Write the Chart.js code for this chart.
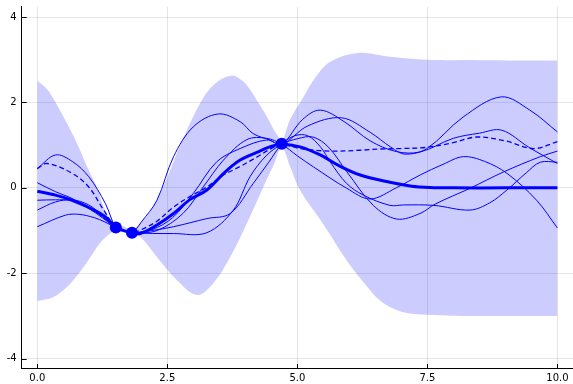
<!DOCTYPE html>
<html>
<head>
<meta charset="utf-8">
<script src="https://cdn.jsdelivr.net/npm/chart.js@4/dist/chart.umd.min.js"></script>
<style>html,body{margin:0;padding:0;background:#fff;}canvas{display:block;}</style>
</head>
<body>
<canvas id="c" width="573" height="384" style="width:573px;height:384px"></canvas>
<script>
// ---- tick definitions ----
const xTicks = [0, 2.5, 5, 7.5, 10];
const xTickLabels = ['0.0', '2.5', '5.0', '7.5', '10.0'];
const yTicks = [-4, -2, 0, 2, 4];
const yTickLabels = ['-4', '-2', '0', '2', '4'];

// ---- observations ----
const obsX = [1.51, 1.82, 4.70];
const obsY = [-0.93, -1.05, 1.03];

// ---- confidence band (upper / lower edges) ----
const bandUpX = [0, 0.12, 0.25, 0.57, 0.8, 1.0, 1.15, 1.31, 1.51, 1.66, 1.82, 2.0, 2.2, 2.42, 2.75, 3.13, 3.4, 3.74, 3.95, 4.09, 4.22, 4.4, 4.54, 4.63, 4.7, 4.86, 5.08, 5.31, 5.63, 6.17, 6.78, 7.5, 8.5, 10];
const bandUpY = [2.51, 2.39, 2.21, 1.51, 0.94, 0.38, 0.0, -0.55, -0.86, -0.9, -0.98, -0.8, -0.5, 0.02, 1.0, 1.98, 2.42, 2.63, 2.5, 2.3, 2.05, 1.7, 1.38, 1.2, 1.07, 1.6, 2.05, 2.52, 2.95, 3.16, 3.07, 3.0, 2.99, 2.98];
const bandLoX = [0, 0.3, 0.57, 0.8, 1.01, 1.2, 1.4, 1.51, 1.66, 1.82, 1.98, 2.3, 2.68, 3.07, 3.38, 3.71, 4.03, 4.32, 4.55, 4.7, 4.86, 5.05, 5.5, 5.95, 6.3, 6.6, 7.0, 7.5, 8.5, 10];
const bandLoY = [-2.65, -2.56, -2.32, -2.0, -1.64, -1.3, -1.07, -1.0, -1.02, -1.12, -1.15, -1.62, -2.16, -2.51, -2.24, -1.62, -0.83, -0.05, 0.55, 0.95, 0.5, -0.05, -0.85, -1.7, -2.25, -2.65, -2.9, -2.97, -3.0, -3.0];

// ---- posterior mean (thick line) ----
const meanX = [0, 0.35, 0.67, 0.99, 1.31, 1.51, 1.66, 1.82, 1.98, 2.3, 2.62, 2.94, 3.26, 3.61, 3.9, 4.22, 4.47, 4.7, 5.05, 5.44, 5.8, 6.21, 6.78, 7.2, 7.55, 8.0, 9.0, 10];
const meanY = [-0.08, -0.17, -0.29, -0.46, -0.68, -0.93, -1.0, -1.05, -1.07, -0.87, -0.6, -0.27, -0.05, 0.37, 0.65, 0.83, 0.96, 1.02, 0.96, 0.77, 0.52, 0.3, 0.13, 0.04, 0.01, 0.0, 0.0, 0.0];

// ---- dashed sample ----
const dashX = [0, 0.19, 0.67, 0.99, 1.24, 1.51, 1.66, 1.82, 1.98, 2.3, 2.62, 2.94, 3.26, 3.58, 3.9, 4.22, 4.5, 4.7, 5.05, 5.63, 6.2, 6.6, 7.0, 7.5, 8.0, 8.45, 9.0, 9.54, 10];
const dashY = [0.45, 0.57, 0.34, 0.02, -0.45, -0.93, -1.0, -1.05, -0.99, -0.78, -0.45, -0.2, 0.02, 0.3, 0.5, 0.72, 0.92, 1.02, 0.92, 0.86, 0.88, 0.91, 0.92, 0.95, 1.06, 1.19, 1.1, 0.92, 1.08];

// ---- thin samples ----
const s1X = [0, 0.35, 0.67, 0.99, 1.31, 1.51, 1.66, 1.82, 2.0, 2.3, 2.62, 3.0, 3.48, 3.9, 4.15, 4.47, 4.7, 5.1, 5.44, 5.9, 6.4, 6.9, 7.36, 8.0, 8.5, 8.93, 9.45, 10];
const s1Y = [0.45, 0.77, 0.62, 0.26, -0.37, -0.93, -1.0, -1.05, -0.8, -0.29, 0.73, 1.43, 1.73, 1.55, 1.27, 1.12, 1.02, 1.6, 1.82, 1.55, 1.1, 0.85, 0.84, 1.16, 1.28, 1.35, 0.95, 0.57];

const s2X = [0, 0.35, 0.67, 0.99, 1.25, 1.51, 1.66, 1.82, 2.2, 2.6, 3.0, 3.45, 3.9, 4.41, 4.7, 5.2, 5.85, 6.4, 6.8, 7.07, 7.49, 8.19, 8.92, 9.47, 10];
const s2Y = [0.12, -0.09, -0.25, -0.48, -0.7, -0.93, -1.0, -1.05, -0.98, -0.7, -0.13, 0.61, 0.92, 1.12, 1.02, 1.45, 1.64, 1.3, 0.95, 0.79, 0.92, 1.66, 2.13, 1.82, 1.31];

const s3X = [0, 0.35, 0.67, 0.99, 1.25, 1.51, 1.66, 1.82, 2.3, 2.8, 3.19, 3.58, 4.03, 4.41, 4.7, 5.0, 5.31, 5.95, 6.4, 6.9, 7.36, 7.8, 8.19, 8.6, 9.03, 9.6, 10];
const s3Y = [-0.29, -0.28, -0.3, -0.45, -0.68, -0.93, -1.0, -1.05, -1.0, -0.6, 0.02, 0.65, 1.13, 1.16, 1.02, 0.75, 0.49, -0.01, -0.26, 0.0, 0.3, 0.55, 0.73, 0.62, 0.34, -0.29, -0.94];

const s4X = [0, 0.35, 0.67, 0.99, 1.25, 1.51, 1.66, 1.82, 2.2, 2.62, 3.26, 3.71, 4.15, 4.45, 4.7, 4.95, 5.2, 5.45, 5.63, 5.95, 6.27, 6.78, 7.04, 7.62, 8.32, 8.7, 9.03, 9.4, 9.67, 10];
const s4Y = [-0.52, -0.33, -0.28, -0.4, -0.65, -0.93, -1.0, -1.05, -1.0, -0.91, -0.72, -0.6, 0.1, 0.6, 1.02, 1.22, 1.22, 0.95, 0.61, 0.1, -0.17, -0.41, -0.4, -0.41, -0.52, -0.35, -0.05, 0.35, 0.6, 0.6];

const s5X = [0, 0.54, 0.8, 1.1, 1.3, 1.51, 1.66, 1.82, 2.62, 3.26, 3.77, 4.09, 4.4, 4.7, 5.0, 5.3, 5.6, 5.95, 6.46, 6.91, 7.36, 7.65, 8.32, 8.96, 9.67, 10];
const s5Y = [-0.91, -0.64, -0.62, -0.7, -0.8, -0.93, -1.0, -1.05, -1.07, -1.05, -0.52, 0.26, 0.75, 1.02, 1.15, 1.19, 0.95, 0.38, -0.41, -0.73, -0.6, -0.38, -0.01, 0.37, 0.73, 0.86];

const pts = (xs, ys) => xs.map((x, i) => ({x: x, y: ys[i]}));
const BLUE = '#0000ff';
const TENSION = 0.35;

function thin(xs, ys) {
  return {data: pts(xs, ys), borderColor: BLUE, borderWidth: 1, pointRadius: 0,
          tension: TENSION, fill: false, order: 5};
}

const inTicks = {
  id: 'inTicks',
  afterDraw(chart) {
    const {ctx, chartArea: a, scales} = chart;
    ctx.save();
    ctx.strokeStyle = '#000';
    ctx.lineWidth = 1;
    ctx.beginPath();
    xTicks.forEach(v => {
      const p = Math.round(scales.x.getPixelForValue(v)) + 0.5;
      ctx.moveTo(p, a.bottom); ctx.lineTo(p, a.bottom - 5);
    });
    yTicks.forEach(v => {
      const p = Math.round(scales.y.getPixelForValue(v)) + 0.5;
      ctx.moveTo(a.left, p); ctx.lineTo(a.left + 5, p);
    });
    ctx.stroke();
    ctx.restore();
  }
};

Chart.defaults.font.family = 'DejaVu Sans';
Chart.defaults.font.size = 10;
Chart.defaults.color = '#000';

new Chart(document.getElementById('c'), {
  type: 'line',
  data: {
    datasets: [
      {data: pts(bandUpX, bandUpY), borderWidth: 0, borderColor: 'rgba(0,0,0,0)', pointRadius: 0,
       tension: TENSION, fill: '+1', backgroundColor: 'rgba(0,0,255,0.2)', order: 10},
      {data: pts(bandLoX, bandLoY), borderWidth: 0, borderColor: 'rgba(0,0,0,0)', pointRadius: 0,
       tension: TENSION, fill: false, order: 10},
      thin(s1X, s1Y),
      thin(s2X, s2Y),
      thin(s3X, s3Y),
      thin(s4X, s4Y),
      thin(s5X, s5Y),
      {data: pts(dashX, dashY), borderColor: BLUE, borderWidth: 1.3, borderDash: [5, 3], pointRadius: 0,
       tension: TENSION, fill: false, order: 4},
      {data: pts(meanX, meanY), borderColor: BLUE, borderWidth: 3, pointRadius: 0,
       tension: TENSION, fill: false, order: 2},
      {data: pts(obsX, obsY), showLine: false, pointRadius: 6, pointBackgroundColor: BLUE,
       pointBorderColor: BLUE, pointBorderWidth: 0, borderColor: BLUE, order: 1}
    ]
  },
  options: {
    responsive: false,
    animation: false,
    devicePixelRatio: 1,
    layout: {autoPadding: false, padding: {top: 6.75, right: 0, left: 0, bottom: 0}},
    plugins: {legend: {display: false}, tooltip: {enabled: false}},
    scales: {
      x: {
        type: 'linear', min: -0.3, max: 10.3,
        afterBuildTicks: s => { s.ticks = xTicks.map(v => ({value: v})); },
        afterFit: s => { s.height = 15.05; s.paddingLeft = 0; s.paddingRight = 0; },
        ticks: {autoSkip: false, maxRotation: 0, padding: 3,
                callback: (v, i) => xTickLabels[i]},
        grid: {color: 'rgba(0,0,0,0.1)', drawTicks: false, lineWidth: 1},
        border: {display: true, color: '#000', width: 1}
      },
      y: {
        type: 'linear', min: -4.24, max: 4.24,
        afterBuildTicks: s => { s.ticks = yTicks.map(v => ({value: v})); },
        afterFit: s => { s.width = 21.7; s.paddingTop = 0; s.paddingBottom = 0; },
        ticks: {autoSkip: false, padding: 5,
                callback: (v, i) => yTickLabels[i]},
        grid: {color: 'rgba(0,0,0,0.1)', drawTicks: false, lineWidth: 1},
        border: {display: true, color: '#000', width: 1}
      }
    }
  },
  plugins: [inTicks]
});
</script>
</body>
</html>
